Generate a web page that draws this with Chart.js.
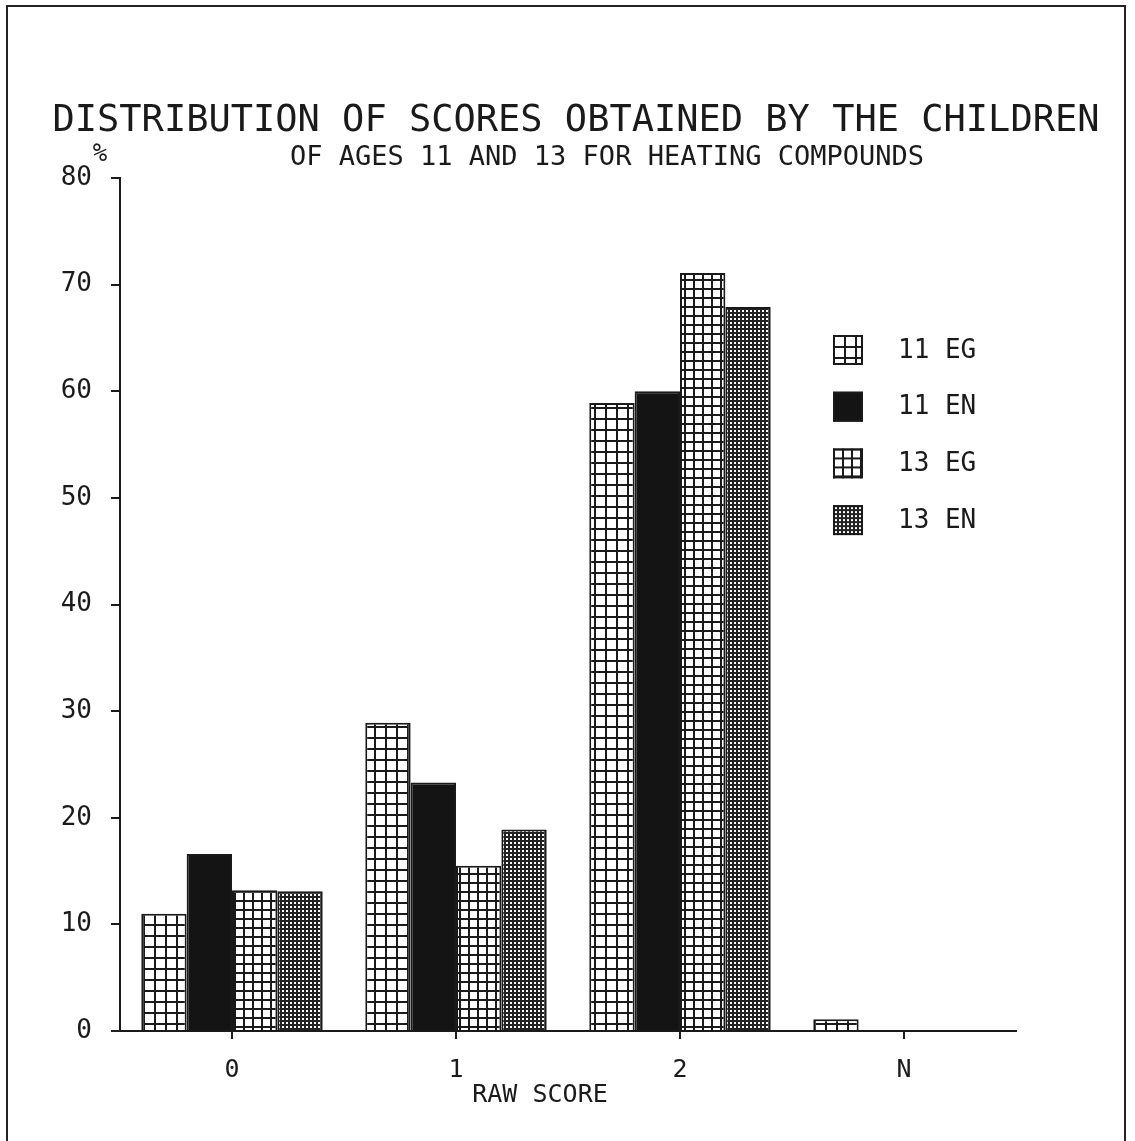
<!DOCTYPE html>
<html>
<head>
<meta charset="utf-8">
<script src="https://cdn.jsdelivr.net/npm/chart.js@4.4.1/dist/chart.umd.min.js"></script>
<style>
  html, body { margin: 0; padding: 0; background: #ffffff; }
  #wrap { width: 1135px; height: 1141px; position: relative; }
</style>
</head>
<body>
<div id="wrap"><canvas id="c" width="1135" height="1141"></canvas></div>
<script>
// ---- data ----
const categories = ['0', '1', '2', 'N'];
const seriesLabels = ['11 EG', '11 EN', '13 EG', '13 EN'];
const eg11 = [11.0, 28.9, 58.9, 1.1];
const en11 = [16.6, 23.3, 60.0, 0];
const eg13 = [13.2, 15.5, 71.1, 0];
const en13 = [13.1, 18.9, 67.9, 0];
const yMin = 0, yMax = 80, yStep = 10;
const titleText = 'DISTRIBUTION OF SCORES OBTAINED BY THE CHILDREN';
const subtitleText = 'OF AGES 11 AND 13 FOR HEATING COMPOUNDS';
const yUnitText = '%';
const xTitleText = 'RAW SCORE';

const FONT = "'DejaVu Sans Mono', 'Liberation Mono', monospace";
const INK = '#1a1a1a';

const canvas = document.getElementById('c');
const ctx = canvas.getContext('2d');

function gridPattern(cell, line, bg, fg) {
  const c = document.createElement('canvas');
  c.width = cell; c.height = cell;
  const g = c.getContext('2d');
  g.fillStyle = bg; g.fillRect(0, 0, cell, cell);
  g.fillStyle = fg;
  g.fillRect(0, 0, cell, line);
  g.fillRect(0, 0, line, cell);
  return ctx.createPattern(c, 'repeat');
}

const fills = [
  gridPattern(11, 2, '#ffffff', INK),
  '#141414',
  gridPattern(9, 2, '#ffffff', INK),
  gridPattern(4, 2, '#ffffff', '#222222')
];
const seriesData = [eg11, en11, eg13, en13];

const datasets = seriesLabels.map((lab, i) => ({
  label: lab,
  data: seriesData[i],
  backgroundColor: fills[i],
  borderColor: INK,
  borderWidth: 2,
  barPercentage: 1.0,
  categoryPercentage: 0.81
}));

const decor = {
  id: 'decor',
  afterDraw(chart) {
    const c = chart.ctx;
    const area = chart.chartArea;
    c.save();
    // frame
    c.strokeStyle = '#222';
    c.lineWidth = 2;
    c.strokeRect(7, 6, 1118, 1150);
    // x-axis extension to the left of the y axis
    c.beginPath();
    c.moveTo(111, area.bottom);
    c.lineTo(area.left, area.bottom);
    c.stroke();

    c.fillStyle = INK;
    c.textBaseline = 'alphabetic';
    c.textAlign = 'center';
    c.font = '37px ' + FONT;
    c.fillText(titleText, 576, 131);
    c.font = '27px ' + FONT;
    c.fillText(subtitleText, 607, 165);
    c.font = '24px ' + FONT;
    c.fillText(yUnitText, 100, 161);
    c.font = '25px ' + FONT;
    c.fillText(xTitleText, 540, 1102);

    // legend
    const lx = 833, ly0 = 335, step = 56.7, box = 30;
    chart.data.datasets.forEach((ds, i) => {
      const y = ly0 + i * step;
      c.save();
      c.translate(lx, y);
      c.fillStyle = ds.backgroundColor;
      c.fillRect(0, 0, box, box);
      c.strokeStyle = INK;
      c.lineWidth = 2;
      c.strokeRect(1, 1, box - 2, box - 2);
      c.restore();
      c.fillStyle = INK;
      c.textAlign = 'left';
      c.textBaseline = 'middle';
      c.font = '26px ' + FONT;
      c.fillText(ds.label, 898, y + box / 2 + 1);
    });
    c.restore();
  }
};

new Chart(canvas, {
  type: 'bar',
  data: { labels: categories, datasets },
  options: {
    responsive: false,
    animation: false,
    layout: { padding: { top: 178, right: 119, left: 0, bottom: 0 } },
    plugins: {
      legend: { display: false },
      title: { display: false },
      tooltip: { enabled: false }
    },
    scales: {
      x: {
        type: 'category',
        offset: true,
        grid: { offset: false, drawOnChartArea: false, drawTicks: true, tickLength: 8, color: INK, lineWidth: 2 },
        border: { display: true, color: INK, width: 2 },
        ticks: { color: INK, font: { family: FONT, size: 25 }, padding: 16, maxRotation: 0 },
        afterFit(s) { s.height = 110; }
      },
      y: {
        min: yMin, max: yMax,
        grid: { drawOnChartArea: false, drawTicks: true, tickLength: 9, color: INK, lineWidth: 2 },
        border: { display: true, color: INK, width: 2 },
        ticks: { stepSize: yStep, color: INK, font: { family: FONT, size: 26 }, padding: 19 },
        afterFit(s) { s.width = 120; }
      }
    }
  },
  plugins: [decor]
});
</script>
</body>
</html>
